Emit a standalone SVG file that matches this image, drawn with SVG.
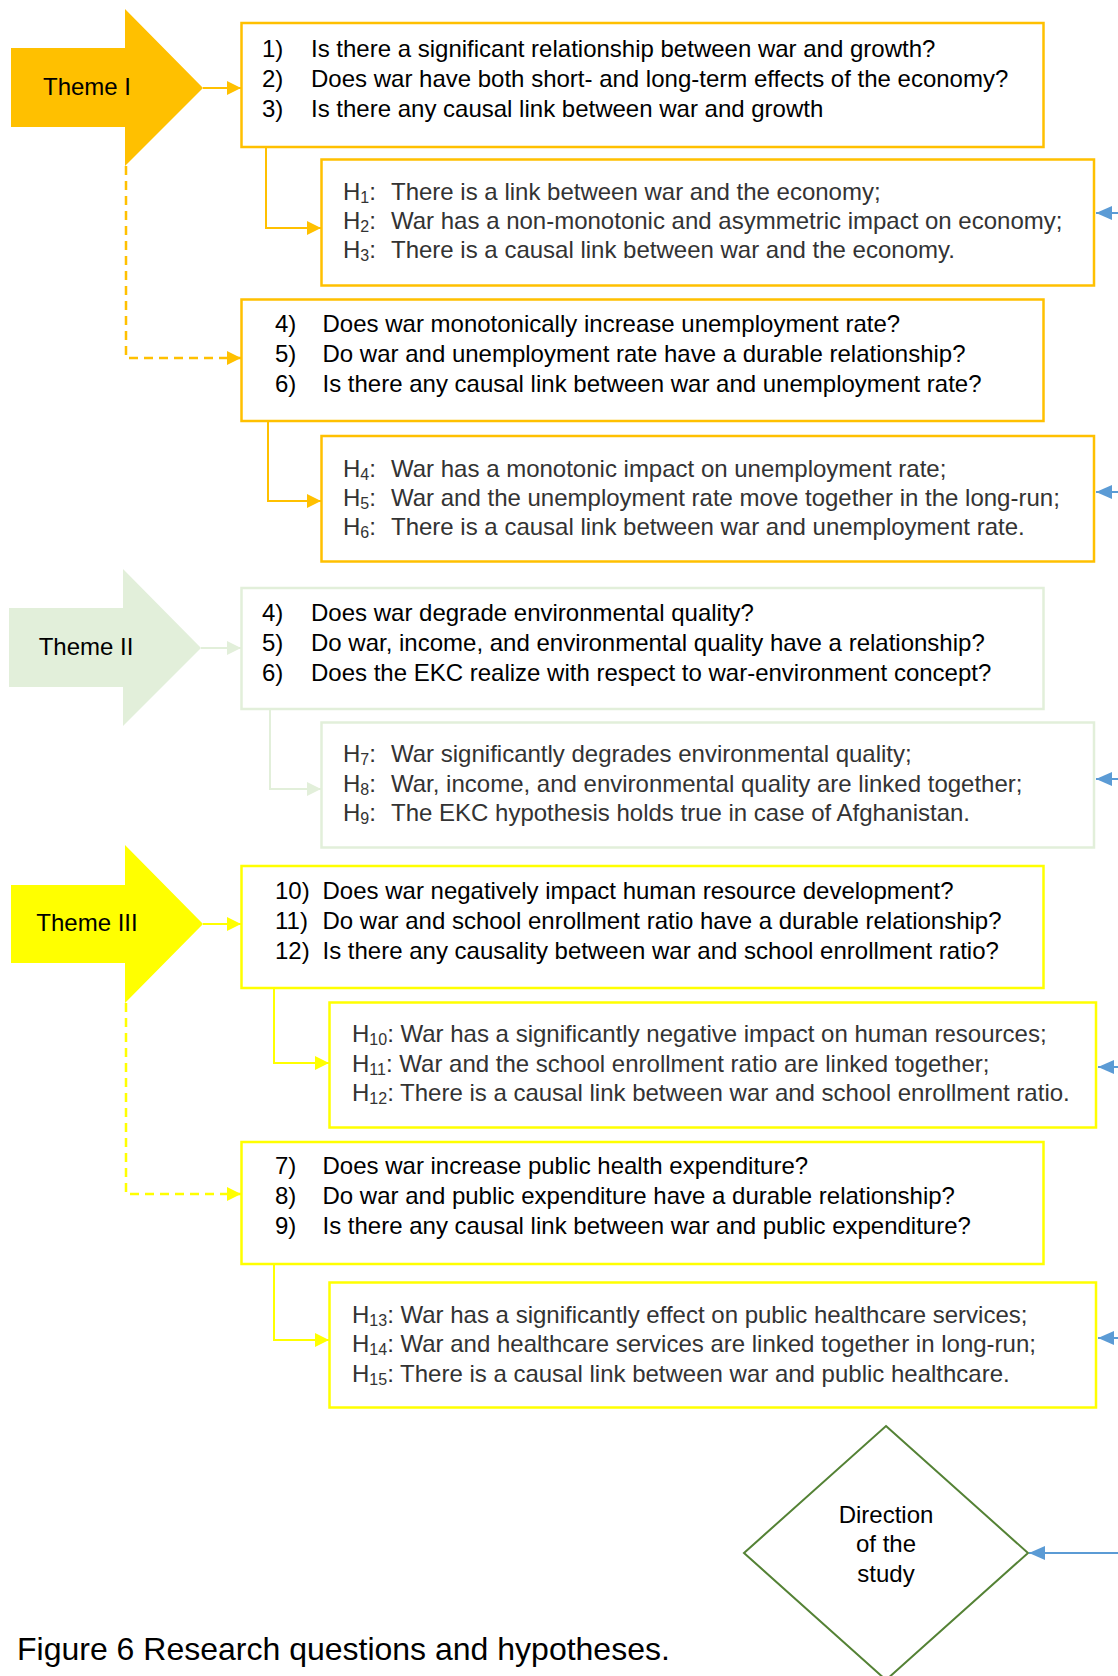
<svg xmlns="http://www.w3.org/2000/svg" width="1118" height="1676" viewBox="0 0 1118 1676">
<defs>
<style>
text{font-family:"Liberation Sans",Arial,sans-serif;font-size:24px;fill:#000}
.h{fill:#333}
.sub{font-size:16px}
.box{fill:#fff;stroke-width:2.5}
.or{stroke:#FFC000}
.gr{stroke:#E2EFDA}
.ye{stroke:#FFFF00}
.c{fill:none;stroke-width:2}
.dash{stroke-dasharray:9,6;stroke-width:2.5}
.mid{text-anchor:middle}
</style>
<marker id="mo" viewBox="0 0 14 14" refX="14" refY="7" markerWidth="14" markerHeight="14" markerUnits="userSpaceOnUse" orient="auto"><path d="M0,0 L14,7 L0,14 z" fill="#FFC000"/></marker>
<marker id="mg" viewBox="0 0 14 14" refX="14" refY="7" markerWidth="14" markerHeight="14" markerUnits="userSpaceOnUse" orient="auto"><path d="M0,0 L14,7 L0,14 z" fill="#E2EFDA"/></marker>
<marker id="my" viewBox="0 0 14 14" refX="14" refY="7" markerWidth="14" markerHeight="14" markerUnits="userSpaceOnUse" orient="auto"><path d="M0,0 L14,7 L0,14 z" fill="#FFFF00"/></marker>
<marker id="mb" viewBox="0 0 16 14" refX="16" refY="7" markerWidth="16" markerHeight="14" markerUnits="userSpaceOnUse" orient="auto"><path d="M0,0 L16,7 L0,14 z" fill="#5B9BD5"/></marker>
</defs>
<rect width="1118" height="1676" fill="#fff"/>

<g id="connectors">
<path class="c or" d="M203,88 H241" marker-end="url(#mo)"/>
<path class="c or" d="M266,147 V228 H321" marker-end="url(#mo)"/>
<path class="c or dash" d="M126,166 V358 H241" marker-end="url(#mo)"/>
<path class="c or" d="M268,421 V501 H321" marker-end="url(#mo)"/>
<path class="c gr" d="M201,648 H241" marker-end="url(#mg)"/>
<path class="c gr" d="M270,709 V789 H321" marker-end="url(#mg)"/>
<path class="c ye" d="M203,924 H241" marker-end="url(#my)"/>
<path class="c ye" d="M274,988 V1063 H329" marker-end="url(#my)"/>
<path class="c ye dash" d="M126,1003 V1194 H241" marker-end="url(#my)"/>
<path class="c ye" d="M274,1264 V1340 H329" marker-end="url(#my)"/>
<path class="c" stroke="#5B9BD5" d="M1118,213 H1096" marker-end="url(#mb)"/>
<path class="c" stroke="#5B9BD5" d="M1118,492 H1096" marker-end="url(#mb)"/>
<path class="c" stroke="#5B9BD5" d="M1118,779 H1096" marker-end="url(#mb)"/>
<path class="c" stroke="#5B9BD5" d="M1118,1067 H1098" marker-end="url(#mb)"/>
<path class="c" stroke="#5B9BD5" d="M1118,1338 H1098" marker-end="url(#mb)"/>
<path class="c" stroke="#5B9BD5" d="M1118,1553 H1029" marker-end="url(#mb)"/>
</g>

<g id="theme1">
<polygon points="11,48 125,48 125,9 203,88 125,166 125,127 11,127" fill="#FFC000"/>
<text x="87" y="95" class="mid">Theme I</text>
</g>

<g id="q1">
<rect class="box or" x="241.5" y="23" width="802" height="124"/>
<text x="262" y="57">1)</text><text x="311" y="57">Is there a significant relationship between war and growth?</text>
<text x="262" y="87">2)</text><text x="311" y="87">Does war have both short- and long-term effects of the economy?</text>
<text x="262" y="117">3)</text><text x="311" y="117">Is there any causal link between war and growth</text>
</g>

<g id="h1">
<rect class="box or" x="321.5" y="159.5" width="772.5" height="126"/>
<text class="h" x="343" y="200">H<tspan class="sub" dy="3">1</tspan><tspan dy="-3">:</tspan></text><text class="h" x="391" y="200">There is a link between war and the economy;</text>
<text class="h" x="343" y="229">H<tspan class="sub" dy="3">2</tspan><tspan dy="-3">:</tspan></text><text class="h" x="391" y="229">War has a non-monotonic and asymmetric impact on economy;</text>
<text class="h" x="343" y="258">H<tspan class="sub" dy="3">3</tspan><tspan dy="-3">:</tspan></text><text class="h" x="391" y="258">There is a causal link between war and the economy.</text>
</g>

<g id="q4">
<rect class="box or" x="241.5" y="299.5" width="802" height="121.5"/>
<text x="275" y="332">4)</text><text x="322.5" y="332">Does war monotonically increase unemployment rate?</text>
<text x="275" y="362">5)</text><text x="322.5" y="362">Do war and unemployment rate have a durable relationship?</text>
<text x="275" y="392">6)</text><text x="322.5" y="392">Is there any causal link between war and unemployment rate?</text>
</g>

<g id="h4">
<rect class="box or" x="321.5" y="436" width="772.5" height="125.5"/>
<text class="h" x="343" y="477">H<tspan class="sub" dy="3">4</tspan><tspan dy="-3">:</tspan></text><text class="h" x="391" y="477">War has a monotonic impact on unemployment rate;</text>
<text class="h" x="343" y="506">H<tspan class="sub" dy="3">5</tspan><tspan dy="-3">:</tspan></text><text class="h" x="391" y="506">War and the unemployment rate move together in the long-run;</text>
<text class="h" x="343" y="535">H<tspan class="sub" dy="3">6</tspan><tspan dy="-3">:</tspan></text><text class="h" x="391" y="535">There is a causal link between war and unemployment rate.</text>
</g>

<g id="theme2">
<polygon points="9,608 123,608 123,569 201,648 123,726 123,687 9,687" fill="#E2EFDA"/>
<text x="86" y="655" class="mid">Theme II</text>
</g>

<g id="qenv">
<rect class="box gr" x="241.5" y="588" width="802" height="121"/>
<text x="262" y="621">4)</text><text x="311" y="621">Does war degrade environmental quality?</text>
<text x="262" y="651">5)</text><text x="311" y="651">Do war, income, and environmental quality have a relationship?</text>
<text x="262" y="681">6)</text><text x="311" y="681">Does the EKC realize with respect to war-environment concept?</text>
</g>

<g id="h7">
<rect class="box gr" x="321.5" y="722.5" width="772.5" height="125"/>
<text class="h" x="343" y="762">H<tspan class="sub" dy="3">7</tspan><tspan dy="-3">:</tspan></text><text class="h" x="391" y="762">War significantly degrades environmental quality;</text>
<text class="h" x="343" y="792">H<tspan class="sub" dy="3">8</tspan><tspan dy="-3">:</tspan></text><text class="h" x="391" y="792">War, income, and environmental quality are linked together;</text>
<text class="h" x="343" y="821">H<tspan class="sub" dy="3">9</tspan><tspan dy="-3">:</tspan></text><text class="h" x="391" y="821">The EKC hypothesis holds true in case of Afghanistan.</text>
</g>

<g id="theme3">
<polygon points="11,885 125,885 125,845 203,924 125,1003 125,963 11,963" fill="#FFFF00"/>
<text x="87" y="931" class="mid">Theme III</text>
</g>

<g id="q10">
<rect class="box ye" x="241.5" y="866" width="802" height="122"/>
<text x="275" y="899">10)</text><text x="322.5" y="899">Does war negatively impact human resource development?</text>
<text x="275" y="929">11)</text><text x="322.5" y="929">Do war and school enrollment ratio have a durable relationship?</text>
<text x="275" y="959">12)</text><text x="322.5" y="959">Is there any causality between war and school enrollment ratio?</text>
</g>

<g id="h10">
<rect class="box ye" x="329.5" y="1002.5" width="766.5" height="125"/>
<text class="h" x="352" y="1042">H<tspan class="sub" dy="3">10</tspan><tspan dy="-3">: War has a significantly negative impact on human resources;</tspan></text>
<text class="h" x="352" y="1072">H<tspan class="sub" dy="3">11</tspan><tspan dy="-3">: War and the school enrollment ratio are linked together;</tspan></text>
<text class="h" x="352" y="1101">H<tspan class="sub" dy="3">12</tspan><tspan dy="-3">: There is a causal link between war and school enrollment ratio.</tspan></text>
</g>

<g id="q7">
<rect class="box ye" x="241.5" y="1142" width="802" height="122"/>
<text x="275" y="1174">7)</text><text x="322.5" y="1174">Does war increase public health expenditure?</text>
<text x="275" y="1204">8)</text><text x="322.5" y="1204">Do war and public expenditure have a durable relationship?</text>
<text x="275" y="1234">9)</text><text x="322.5" y="1234">Is there any causal link between war and public expenditure?</text>
</g>

<g id="h13">
<rect class="box ye" x="329.5" y="1282.5" width="766.5" height="125"/>
<text class="h" x="352" y="1323">H<tspan class="sub" dy="3">13</tspan><tspan dy="-3">: War has a significantly effect on public healthcare services;</tspan></text>
<text class="h" x="352" y="1352">H<tspan class="sub" dy="3">14</tspan><tspan dy="-3">: War and healthcare services are linked together in long-run;</tspan></text>
<text class="h" x="352" y="1382">H<tspan class="sub" dy="3">15</tspan><tspan dy="-3">: There is a causal link between war and public healthcare.</tspan></text>
</g>

<g id="direction">
<polygon points="886,1426 1028,1553 886,1680 744,1553" fill="#fff" stroke="#548235" stroke-width="2"/>
<text x="886" y="1523" class="mid">Direction</text>
<text x="886" y="1552" class="mid">of the</text>
<text x="886" y="1582" class="mid">study</text>
</g>

<g id="caption">
<text x="17" y="1660" style="font-size:32px">Figure 6 Research questions and hypotheses.</text>
</g>
</svg>
